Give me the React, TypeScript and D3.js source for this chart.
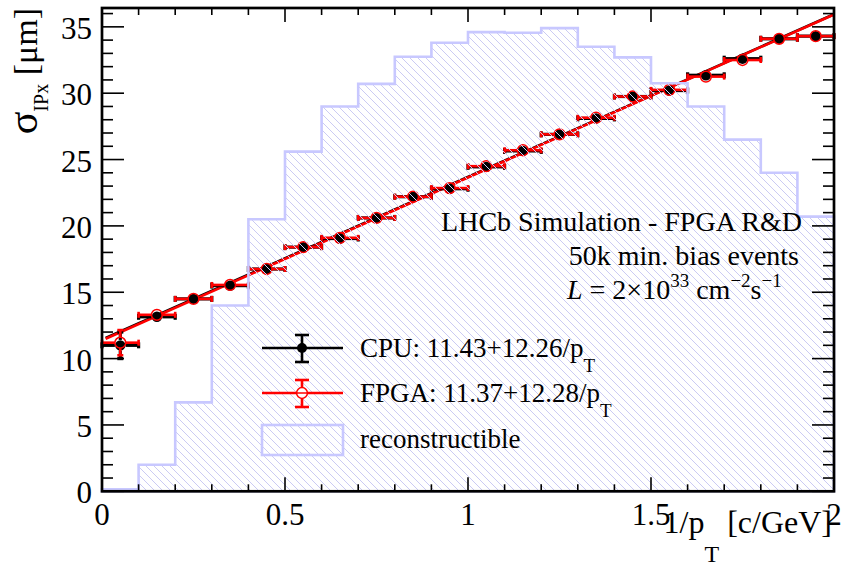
import React from 'react';
import * as d3 from 'd3';

// bin centres of the profile (1/pT, c/GeV)
const binCentres = [0.05, 0.15, 0.25, 0.35, 0.45, 0.55, 0.65, 0.75, 0.85, 0.95,
  1.05, 1.15, 1.25, 1.35, 1.45, 1.55, 1.65, 1.75, 1.85, 1.95];

// sigma_IPx [um]
const cpuValues = [11.0, 13.15, 14.5, 15.5, 16.75, 18.4, 19.05, 20.6, 22.2, 22.8,
  24.45, 25.65, 26.9, 28.1, 29.75, 30.2, 31.35, 32.6, 34.1, 34.3];
const cpuErrors = [1.0, 0.35, 0.3, 0.25, 0.25, 0.25, 0.25, 0.25, 0.25, 0.25,
  0.25, 0.25, 0.25, 0.25, 0.25, 0.25, 0.3, 0.3, 0.3, 0.35];
const fpgaValues = [11.2, 13.3, 14.5, 15.55, 16.75, 18.4, 19.1, 20.6, 22.2, 22.85,
  24.5, 25.7, 26.9, 28.15, 29.75, 30.25, 31.25, 32.5, 34.1, 34.3];
const fpgaErrors = [0.95, 0.35, 0.3, 0.25, 0.25, 0.25, 0.25, 0.25, 0.25, 0.25,
  0.25, 0.25, 0.25, 0.25, 0.25, 0.25, 0.3, 0.3, 0.3, 0.35];

// reconstructible tracks (arbitrary scale), bins of 0.1
const histEdges = [0, 0.1, 0.2, 0.3, 0.4, 0.5, 0.6, 0.7, 0.8, 0.9, 1.0,
  1.1, 1.2, 1.3, 1.4, 1.5, 1.6, 1.7, 1.8, 1.9, 2.0];
const histValues = [0.15, 2.0, 6.7, 14.0, 20.5, 25.6, 29.0, 30.7, 32.75, 33.8,
  34.6, 34.55, 34.9, 33.5, 32.7, 30.75, 29.0, 26.5, 24.0, 20.7];

// fits: p0 + p1 / pT
const cpuFit = [11.43, 12.26];
const fpgaFit = [11.37, 12.28];

const font = '"Liberation Serif", "Times New Roman", serif';
const HATCH = '#cbcbf3';
const HIST = '#c8c8ff';

const W = 841, H = 569;
const left = 102, right = 834, top = 8, bottom = 491.3;

export default function App() {
  const x = d3.scaleLinear().domain([0, 2]).range([left, right]);
  const y = d3.scaleLinear().domain([0, 36.42]).range([bottom, top]);

  const xTicks = d3.range(0, 21).map(i => i / 10);
  const yTicks = d3.range(0, 37);

  // histogram step outline
  const histPts: [number, number][] = [[0, 0]];
  histValues.forEach((v, i) => {
    histPts.push([histEdges[i], v]);
    histPts.push([histEdges[i + 1], v]);
  });
  histPts.push([2, 0]);
  const histPath = d3.line<[number, number]>().x(d => x(d[0])).y(d => y(d[1]))(histPts) + 'Z';

  const fitLine = (p: number[]) => d3.line<number>()
    .x(d => x(d)).y(d => y(p[0] + p[1] * d))([0.01, 2]) || '';

  const R = 5.4;
  const points = (vals: number[], errs: number[], color: string, open: boolean, lw: number) =>
    binCentres.map((c, i) => {
      const cx = x(c), cy = y(vals[i]);
      const x0 = x(c - 0.05), x1 = x(c + 0.05);
      const y0 = y(vals[i] - errs[i]), y1 = y(vals[i] + errs[i]);
      const hasY = y0 - cy > R;
      return (
        <g key={i} stroke={color} strokeWidth={lw}>
          <line x1={x0} x2={cx - R} y1={cy} y2={cy} />
          <line x1={cx + R} x2={x1} y1={cy} y2={cy} />
          <line x1={x0} x2={x0} y1={cy - 3} y2={cy + 3} />
          <line x1={x1} x2={x1} y1={cy - 3} y2={cy + 3} />
          {hasY && <line x1={cx} x2={cx} y1={y0} y2={cy + R} />}
          {hasY && <line x1={cx} x2={cx} y1={cy - R} y2={y1} />}
          {hasY && <line x1={cx - 3} x2={cx + 3} y1={y0} y2={y0} />}
          {hasY && <line x1={cx - 3} x2={cx + 3} y1={y1} y2={y1} />}
          {open
            ? <circle cx={cx} cy={cy} r={R} fill="none" strokeWidth={1.5} />
            : <circle cx={cx} cy={cy} r={R - 0.2} fill={color} stroke="none" />}
        </g>
      );
    });

  return (
    <svg width={W} height={H} style={{ position: 'absolute', left: 0, top: 0, background: '#fff' }}
      fontFamily={font}>
      <defs>
        <pattern id="hatch" patternUnits="userSpaceOnUse" width={8} height={8}>
          <path d="M-2,-2 L10,10 M-2,6 L2,10 M6,-2 L10,2" stroke={HATCH} strokeWidth={1} />
        </pattern>
      </defs>

      {/* fits */}
      <path d={fitLine(cpuFit)} stroke="#000" strokeWidth={2.6} fill="none" />
      <path d={fitLine(fpgaFit)} stroke="#f00" strokeWidth={2.6} fill="none" />

      {points(cpuValues, cpuErrors, '#000', false, 3.2)}
      {points(fpgaValues, fpgaErrors, '#f00', true, 2.6)}

      {/* reconstructible histogram */}
      <path d={histPath} fill="url(#hatch)" stroke={HIST} strokeWidth={2.6} />

      {/* labels box */}
      <g fontSize={28} textAnchor="end" fill="#000">
        <text x={802} y={231}>LHCb Simulation - FPGA R&amp;D</text>
        <text x={799} y={265}>50k min. bias events</text>
      </g>
      <text x={567} y={299} fontSize={28}>
        <tspan fontStyle="italic">L</tspan>
        <tspan> = 2×10</tspan>
        <tspan fontSize={19} dy={-12}>33</tspan>
        <tspan dy={12}> cm</tspan>
        <tspan fontSize={19} dy={-12}>−2</tspan>
        <tspan dy={12}>s</tspan>
        <tspan fontSize={19} dy={-12}>−1</tspan>
      </text>

      {/* legend */}
      <g stroke="#000" strokeWidth={2.6}>
        <line x1={262} x2={343} y1={348} y2={348} />
        <line x1={302} x2={302} y1={335} y2={362} />
        <line x1={295} x2={309} y1={335} y2={335} />
        <line x1={295} x2={309} y1={362} y2={362} />
        <circle cx={302} cy={348} r={5} fill="#000" stroke="none" />
      </g>
      <g stroke="#f00" strokeWidth={2.6}>
        <line x1={262} x2={343} y1={393} y2={393} />
        <line x1={302} x2={302} y1={380} y2={407} />
        <line x1={295} x2={309} y1={380} y2={380} />
        <line x1={295} x2={309} y1={407} y2={407} />
        <circle cx={302} cy={393} r={5.4} fill="#fff" strokeWidth={1.5} />
        <line x1={297} x2={307} y1={393} y2={393} strokeWidth={1.5} />
      </g>
      <rect x={262} y={425} width={81} height={30} fill="url(#hatch)" stroke={HIST} strokeWidth={2.6} />
      <g fontSize={27} fill="#000">
        <text x={360} y={357}>CPU: 11.43+12.26/p<tspan fontSize={19} dy={15}>T</tspan></text>
        <text x={360} y={402}>FPGA: 11.37+12.28/p<tspan fontSize={19} dy={15}>T</tspan></text>
        <text x={360} y={448}>reconstructible</text>
      </g>

      {/* frame and ticks */}
      <g stroke="#000" strokeWidth={1.6}>
        {xTicks.map(t => {
          const major = Math.abs(t * 2 - Math.round(t * 2)) < 1e-6;
          const len = major ? 14 : 7;
          return (
            <g key={'x' + t}>
              <line x1={x(t)} x2={x(t)} y1={bottom} y2={bottom - len} />
              <line x1={x(t)} x2={x(t)} y1={top} y2={top + len} />
            </g>
          );
        })}
        {yTicks.map(t => {
          const len = t % 5 === 0 ? 22 : 11;
          return (
            <g key={'y' + t}>
              <line x1={left} x2={left + len} y1={y(t)} y2={y(t)} />
              <line x1={right} x2={right - len} y1={y(t)} y2={y(t)} />
            </g>
          );
        })}
      </g>
      <rect x={left} y={top} width={right - left} height={bottom - top} fill="none" stroke="#000" strokeWidth={2.7} />

      {/* tick labels */}
      <g fontSize={31} fill="#000">
        {[0, 0.5, 1, 1.5, 2].map(t => (
          <text key={'xl' + t} x={x(t)} y={525} textAnchor="middle">{d3.format('~g')(t)}</text>
        ))}
        {[0, 5, 10, 15, 20, 25, 30, 35].map(t => (
          <text key={'yl' + t} x={92} y={y(t) + 12} textAnchor="end">{t}</text>
        ))}
      </g>

      {/* axis titles */}
      <text x={832} y={533} fontSize={32} textAnchor="end">
        1/p<tspan fontSize={24} dy={29}>T</tspan><tspan dy={-29}> [c/GeV]</tspan>
      </text>
      <text transform="translate(37,8) rotate(-90)" fontSize={34} textAnchor="end">
        <tspan fontSize={42}>σ</tspan>
        <tspan fontSize={20} dy={11}>IPx</tspan>
        <tspan dy={-11}> [μm]</tspan>
      </text>
    </svg>
  );
}
